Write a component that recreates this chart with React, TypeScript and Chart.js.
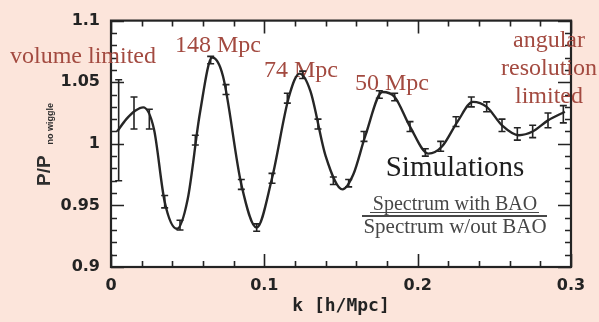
import React, { useEffect, useRef } from "react";
import { Chart, registerables } from "chart.js";

Chart.register(...registerables);

// Smooth model curve
const curveK = [0.004, 0.010, 0.016, 0.021, 0.028, 0.035, 0.043, 0.050, 0.058, 0.066, 0.073, 0.085, 0.095, 0.105, 0.116, 0.123, 0.130, 0.140, 0.151, 0.158, 0.166, 0.177, 0.185, 0.195, 0.207, 0.216, 0.226, 0.236, 0.245, 0.255, 0.266, 0.275, 0.285, 0.296];
const curveP = [1.010, 1.020, 1.027, 1.0296, 1.012, 0.953, 0.931, 0.955, 1.025, 1.070, 1.055, 0.967, 0.932, 0.972, 1.038, 1.057, 1.043, 0.990, 0.963, 0.975, 1.007, 1.042, 1.038, 1.014, 0.992, 0.998, 1.018, 1.034, 1.030, 1.015, 1.007, 1.010, 1.019, 1.026];

// Simulation points with error bars
const pointK = [0.005, 0.015, 0.025, 0.035, 0.045, 0.055, 0.065, 0.075, 0.085, 0.095, 0.105, 0.115, 0.125, 0.135, 0.145, 0.155, 0.165, 0.175, 0.185, 0.195, 0.205, 0.215, 0.225, 0.235, 0.245, 0.255, 0.265, 0.275, 0.285, 0.295];
const pointP = [1.011, 1.025, 1.020, 0.953, 0.934, 1.003, 1.068, 1.044, 0.967, 0.932, 0.972, 1.037, 1.056, 1.016, 0.970, 0.968, 1.006, 1.040, 1.038, 1.014, 0.993, 0.998, 1.018, 1.034, 1.030, 1.015, 1.008, 1.010, 1.019, 1.024];
const pointErr = [0.041, 0.013, 0.008, 0.005, 0.004, 0.004, 0.003, 0.004, 0.004, 0.003, 0.004, 0.004, 0.003, 0.004, 0.003, 0.003, 0.004, 0.003, 0.003, 0.004, 0.003, 0.004, 0.004, 0.004, 0.004, 0.005, 0.005, 0.005, 0.006, 0.007];

// Axis ticks
const xTickValues = [0, 0.1, 0.2, 0.3];
const xTickLabels = ["0", "0.1", "0.2", "0.3"];
const yTickValues = [0.9, 0.95, 1, 1.05, 1.1];
const yTickLabels = ["0.9", "0.95", "1", "1.05", "1.1"];
const xMinorStep = 0.02;
const yMinorStep = 0.01;

// Texts
const xTitle = "k [h/Mpc]";
const yTitleMain = "P/P";
const yTitleSub = "no wiggle";
const scaleNotes = ["148 Mpc", "74 Mpc", "50 Mpc"];
const leftNote = "volume limited";
const rightNote = ["angular", "resolution", "limited"];
const boxTitle = "Simulations";
const fracTop = "Spectrum with BAO";
const fracBottom = "Spectrum w/out BAO";

const PAGE_BG = "#fce5db";
const NOTE_COLOR = "#a34a40";
const INK = "#232323";

const bgPlugin = {
  id: "bgPlugin",
  beforeDraw(chart: any) {
    const { ctx, chartArea: a, width, height } = chart;
    ctx.save();
    ctx.fillStyle = PAGE_BG;
    ctx.fillRect(0, 0, width, height);
    ctx.fillStyle = "#ffffff";
    ctx.fillRect(a.left, a.top, a.right - a.left, a.bottom - a.top);
    ctx.restore();
  },
};

const framePlugin = {
  id: "framePlugin",
  beforeDatasetsDraw(chart: any) {
    const { ctx, chartArea: a, scales } = chart;
    const xs = scales.x;
    const ys = scales.y;
    ctx.save();
    ctx.strokeStyle = INK;
    ctx.lineWidth = 1.6;
    const xMin = xs.min, xMax = xs.max;
    for (let i = 0; xMin + i * xMinorStep <= xMax + 1e-9; i++) {
      const v = xMin + i * xMinorStep;
      const px = Math.round(xs.getPixelForValue(v)) + 0.5;
      const major = xTickValues.some((t) => Math.abs(t - v) < 1e-9);
      const len = major ? 13 : 6;
      ctx.beginPath();
      ctx.moveTo(px, a.bottom);
      ctx.lineTo(px, a.bottom - len);
      ctx.moveTo(px, a.top);
      ctx.lineTo(px, a.top + len);
      ctx.stroke();
    }
    const yMin = ys.min, yMax = ys.max;
    for (let i = 0; yMin + i * yMinorStep <= yMax + 1e-9; i++) {
      const v = yMin + i * yMinorStep;
      const py = Math.round(ys.getPixelForValue(v)) + 0.5;
      const major = yTickValues.some((t) => Math.abs(t - v) < 1e-9);
      const len = major ? 13 : 6;
      ctx.beginPath();
      ctx.moveTo(a.left, py);
      ctx.lineTo(a.left + len, py);
      ctx.moveTo(a.right, py);
      ctx.lineTo(a.right - len, py);
      ctx.stroke();
    }
    ctx.lineWidth = 2.2;
    ctx.strokeRect(a.left, a.top, a.right - a.left, a.bottom - a.top);

    // y title (rotated, with subscript)
    ctx.fillStyle = "#2e2e2e";
    ctx.translate(50, 186);
    ctx.rotate(-Math.PI / 2);
    ctx.font = "bold 19px 'Liberation Sans'";
    ctx.textAlign = "left";
    ctx.textBaseline = "alphabetic";
    ctx.fillText(yTitleMain, 0, 0);
    const w = ctx.measureText(yTitleMain).width;
    ctx.font = "bold 9px 'Liberation Sans'";
    ctx.fillText(yTitleSub, w + 11, 3);
    ctx.restore();

    // annotations
    ctx.save();
    ctx.fillStyle = NOTE_COLOR;
    ctx.font = "24px 'Liberation Serif'";
    ctx.textBaseline = "alphabetic";
    ctx.textAlign = "left";
    ctx.fillText(leftNote, 10, 63);
    ctx.fillText(scaleNotes[0], 175, 52);
    ctx.fillText(scaleNotes[1], 264, 77);
    ctx.fillText(scaleNotes[2], 355, 90);
    ctx.textAlign = "center";
    ctx.fillText(rightNote[0], 549, 47);
    ctx.fillText(rightNote[1], 549, 75);
    ctx.fillText(rightNote[2], 549, 103);

    ctx.fillStyle = "#1e1e1e";
    ctx.font = "29px 'Liberation Serif'";
    ctx.fillText(boxTitle, 455, 176);
    ctx.fillStyle = "#474747";
    ctx.font = "20px 'Liberation Serif'";
    ctx.fillText(fracTop, 455, 210);
    ctx.font = "21px 'Liberation Serif'";
    ctx.fillText(fracBottom, 455, 233);
    ctx.strokeStyle = "#474747";
    ctx.lineWidth = 1;
    ctx.beginPath();
    ctx.moveTo(370, 212.5);
    ctx.lineTo(539, 212.5);
    ctx.stroke();
    ctx.lineWidth = 2;
    ctx.beginPath();
    ctx.moveTo(362, 216);
    ctx.lineTo(547, 216);
    ctx.stroke();
    ctx.restore();
  },
};

const errPlugin = {
  id: "errPlugin",
  afterDatasetsDraw(chart: any) {
    const { ctx } = chart;
    const ys = chart.scales.y;
    const meta = chart.getDatasetMeta(1);
    ctx.save();
    ctx.strokeStyle = INK;
    ctx.lineWidth = 1.6;
    meta.data.forEach((el: any, i: number) => {
      const px = el.x;
      const yt = ys.getPixelForValue(pointP[i] + pointErr[i]);
      const yb = ys.getPixelForValue(pointP[i] - pointErr[i]);
      const cap = 3.5;
      ctx.beginPath();
      ctx.moveTo(px, yt);
      ctx.lineTo(px, yb);
      ctx.moveTo(px - cap, yt);
      ctx.lineTo(px + cap, yt);
      ctx.moveTo(px - cap, yb);
      ctx.lineTo(px + cap, yb);
      ctx.stroke();
    });
    ctx.restore();
  },
};

export default function App() {
  const ref = useRef<HTMLCanvasElement>(null);
  useEffect(() => {
    document.body.style.margin = "0";
    document.body.style.background = PAGE_BG;
    const chart = new Chart(ref.current as HTMLCanvasElement, {
      type: "line",
      data: {
        datasets: [
          {
            data: curveK.map((k, i) => ({ x: k, y: curveP[i] })),
            borderColor: "#262626",
            borderWidth: 2.4,
            pointRadius: 0,
            cubicInterpolationMode: "monotone",
            fill: false,
          },
          {
            data: pointK.map((k, i) => ({ x: k, y: pointP[i] })),
            showLine: false,
            pointRadius: 0,
            borderColor: INK,
          },
        ],
      },
      options: {
        animation: false,
        responsive: false,
        devicePixelRatio: 1,
        layout: { padding: { left: 0, top: 14, right: 28, bottom: 0 } },
        plugins: { legend: { display: false }, tooltip: { enabled: false } },
        scales: {
          x: {
            type: "linear",
            min: 0,
            max: 0.3,
            grid: { display: false, drawTicks: false },
            border: { display: false },
            afterBuildTicks: (s: any) => {
              s.ticks = xTickValues.map((v) => ({ value: v }));
            },
            afterFit: (s: any) => {
              s.height = 55;
            },
            ticks: {
              padding: 9,
              color: INK,
              font: { family: "'DejaVu Sans'", weight: "bold", size: 16 },
              maxRotation: 0,
              callback: (v: any, i: number) => xTickLabels[i],
            },
            title: {
              display: true,
              text: xTitle,
              color: INK,
              font: { family: "'DejaVu Sans Mono'", weight: "bold", size: 18 },
              padding: { top: 0, bottom: 5 },
            },
          },
          y: {
            type: "linear",
            min: 0.9,
            max: 1.1,
            grid: { display: false, drawTicks: false },
            border: { display: false },
            afterBuildTicks: (s: any) => {
              s.ticks = yTickValues.map((v) => ({ value: v }));
            },
            afterFit: (s: any) => {
              s.width = 111;
            },
            ticks: {
              padding: 11,
              color: INK,
              font: { family: "'DejaVu Sans'", weight: "bold", size: 16 },
              callback: (v: any, i: number) => yTickLabels[i],
            },
          },
        },
      },
      plugins: [bgPlugin, framePlugin, errPlugin],
    } as any);
    return () => chart.destroy();
  }, []);
  return (
    <div style={{ width: 599, height: 322, background: PAGE_BG }}>
      <canvas ref={ref} width={599} height={322} style={{ display: "block" }} />
    </div>
  );
}
